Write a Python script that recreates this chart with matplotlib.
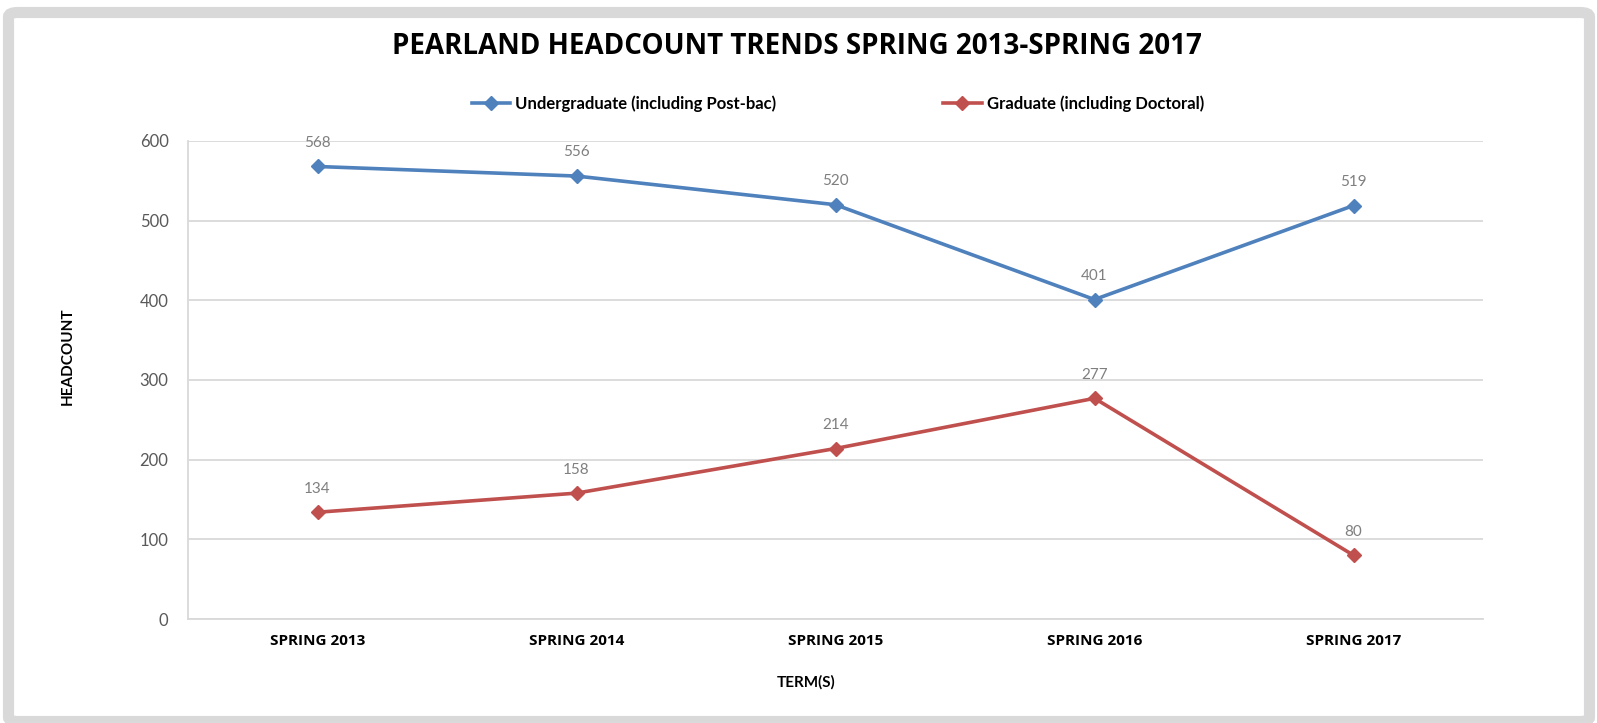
import matplotlib.pyplot as plt
from matplotlib.patches import FancyBboxPatch

# donnees du graphique
termes = ["SPRING 2013", "SPRING 2014", "SPRING 2015", "SPRING 2016", "SPRING 2017"]
undergrad = [568, 556, 520, 401, 519]
graduate = [134, 158, 214, 277, 80]
y_ticks = [0, 100, 200, 300, 400, 500, 600]

bleu = '#4F81BD'
rouge = '#C0504D'
grille = '#D9D9D9'

plt.rcParams['font.family'] = ['Lato', 'DejaVu Sans']

fig = plt.figure(figsize=(15.97, 7.23), dpi=100)

# cadre gris autour du graphique
cadre = FancyBboxPatch((8.5 / 1597, 1.5 / 723), 1581 / 1597, 709 / 723,
                       boxstyle="round,pad=0,rounding_size=0.006",
                       transform=fig.transFigure, facecolor='white',
                       edgecolor=grille, linewidth=8, zorder=-10)
fig.patches.append(cadre)

ax = fig.add_axes([188 / 1597, 1 - 619 / 723, 1295 / 1597, 478 / 723])
x = range(len(termes))

ax.plot(x, undergrad, color=bleu, lw=2.6, marker='D', markersize=7,
        label="Undergraduate (including Post-bac)")
ax.plot(x, graduate, color=rouge, lw=2.6, marker='D', markersize=7,
        label="Graduate (including Doctoral)")

# etiquettes de valeurs
for serie in (undergrad, graduate):
    for i, v in enumerate(serie):
        ax.annotate(str(v), (i, v), xytext=(0, 17), textcoords='offset points',
                    ha='center', va='center', fontsize=11, color='#7F7F7F')

ax.set_xlim(-0.5, len(termes) - 0.5)
ax.set_ylim(0, 600)
ax.set_yticks(y_ticks)
ax.set_xticks(list(x))
ax.set_xticklabels(termes, fontsize=11, fontweight='bold', color='black',
                   family=['Open Sans', 'DejaVu Sans'])
ax.tick_params(axis='y', length=0, pad=14, labelsize=12, labelcolor='#595959')
ax.tick_params(axis='x', length=0, pad=11)
ax.grid(axis='y', color=grille, lw=1.3)
ax.set_axisbelow(True)
for cote in ('top', 'right'):
    ax.spines[cote].set_visible(False)
for cote in ('left', 'bottom'):
    ax.spines[cote].set_color(grille)
    ax.spines[cote].set_linewidth(1.3)

fig.text(797 / 1597, 1 - 46 / 723, "PEARLAND HEADCOUNT TRENDS SPRING 2013-SPRING 2017",
         ha='center', va='center', fontsize=20, fontweight='bold',
         family=['Open Sans', 'DejaVu Sans'])
fig.text(68 / 1597, 1 - 356 / 723, "HEADCOUNT", rotation=90, ha='center', va='center',
         fontsize=11, fontweight='bold')
fig.text(806 / 1597, 1 - 682 / 723, "TERM(S)", ha='center', va='center',
         fontsize=11, fontweight='bold')

fig.legend(loc='center', bbox_to_anchor=(838 / 1597, 1 - 104 / 723), ncol=2,
           frameon=False, prop={'weight': 'bold', 'size': 12},
           handlelength=2.3, handletextpad=0.3, columnspacing=10)

fig.savefig('out.png', dpi=100)
